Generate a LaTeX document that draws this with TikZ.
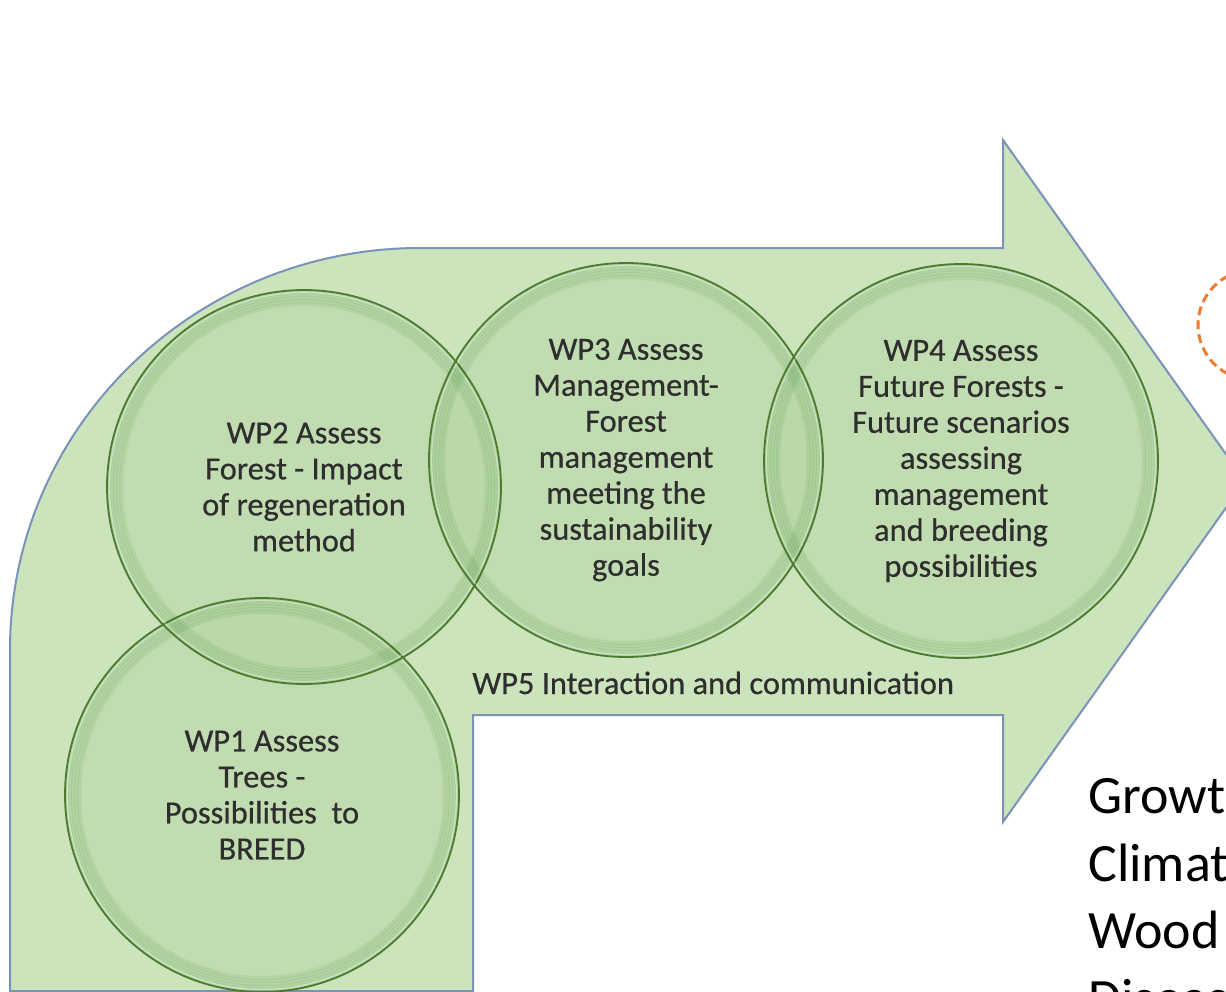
\documentclass[tikz,border=0pt]{standalone}
\usepackage{fontspec}
\setmainfont{Carlito}
\newfontfamily\wpfont{Carlito}[FakeBold=0.5]
\usepackage{xcolor}
\usetikzlibrary{positioning}

\definecolor{arrowfill}{HTML}{CBE4BC}
\definecolor{arrowedge}{HTML}{7B93B8}
\definecolor{wpfill}{HTML}{B2D29E}
\definecolor{wpedge}{HTML}{4C7A2E}
\definecolor{wporange}{HTML}{ED7D31}

\begin{document}
\begin{tikzpicture}[
  x=0.5pt, y=-0.5pt,
  wpcircle/.style={circle, minimum size=197pt, inner sep=0pt,
                   fill=wpfill, fill opacity=0.4, text opacity=1,
                   text=black!82, align=center,
                   font=\wpfont\fontsize{16.2}{18}\selectfont},
  wpring/.style={wpedge, line width=0.9pt},
  wpglow/.style={green!40!black, line width=2pt, opacity=0.07},
  wpshine/.style={white, line width=0.6pt, opacity=0.4}
]
\useasboundingbox (0,0) rectangle (1226,991);
\clip (0,0) rectangle (1226,991);

% ---- BENT ARROW ----
\draw[fill=arrowfill, draw=arrowedge, line width=1pt, line join=miter]
  (10,991) -- (10,650) .. controls (10,428) and (194,248) .. (420,248)
  -- (1003,248) -- (1003,140) -- (1245,481) -- (1003,822)
  -- (1003,715) -- (473,715) -- (473,991) -- cycle;

% ---- WORK PACKAGES ----
\node[wpcircle] (wp2) at (304,487)
  {WP2 Assess\\Forest - Impact\\of regeneration\\method};
\node[wpcircle] (wp1) at (262,795)
  {WP1 Assess\\Trees -\\Possibilities~ to\\BREED};
\node[wpcircle] (wp3) at (626,460)
  {WP3 Assess\\Management-\\Forest\\management\\meeting the\\sustainability\\goals};
\node[wpcircle] (wp4) at (961,461)
  {WP4 Assess\\Future Forests -\\Future scenarios\\assessing\\management\\and breeding\\possibilities};

% ---- circle rims ----
\foreach \wp in {wp1,wp2,wp3,wp4} {
  \foreach \r in {97.5,96,94.5,93,91.5}
    \draw[wpglow] (\wp.center) circle[radius=\r pt];
  \draw[wpshine] (\wp.center) circle[radius=97.2pt];
  \draw[wpring] (\wp.center) circle[radius=98.5pt];
}

% ---- WP5 ----
\node[anchor=base west, inner sep=0pt, text=black!82,
      font=\wpfont\fontsize{16.2}{18}\selectfont] (wp5) at (472,694)
  {WP5 Interaction and communication};

% ---- RIGHT SIDE ----
\draw[wporange, line width=1.5pt, dash pattern=on 4.5pt off 2.5pt]
  (1253,325) circle[radius=27.5pt];

\node[anchor=base west, inner sep=0pt, align=left,
      font=\fontsize{27}{33.75}\selectfont] (topics) at (1088,1016)
  {Growt\\Climat\\Wood\\Diseas};

\end{tikzpicture}
\end{document}
